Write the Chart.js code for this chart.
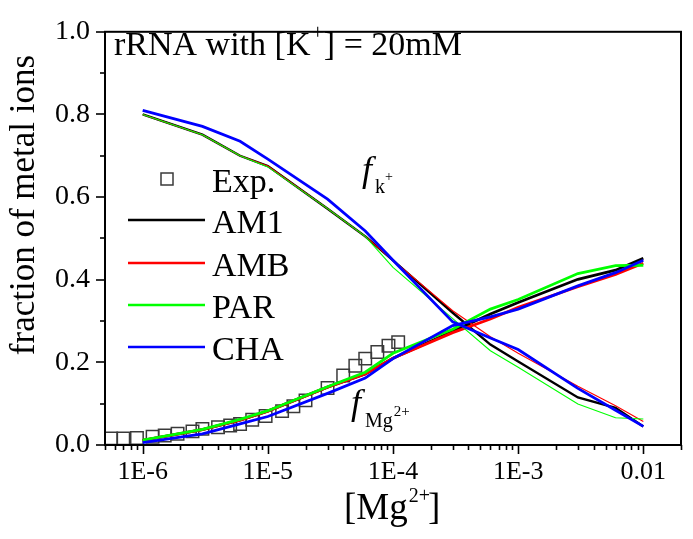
<!DOCTYPE html>
<html><head><meta charset="utf-8">
<script src="https://cdn.jsdelivr.net/npm/chart.js@4/dist/chart.umd.min.js"></script>
<style>html,body{margin:0;padding:0;background:#fff}#wrap{width:693px;height:539px;position:relative}</style>
</head><body><div id="wrap"><canvas id="c" width="693" height="539"></canvas></div>
<script>
// ---- data ----
const mgConc = [1e-6, 3e-6, 6e-6, 1e-5, 3e-5, 6e-5, 1e-4, 3e-4, 6e-4, 1e-3, 3e-3, 6e-3, 1e-2];
// fraction of K+ (decreasing curves)
const am1K = [0.800, 0.751, 0.700, 0.675, 0.572, 0.505, 0.447, 0.320, 0.243, 0.202, 0.115, 0.090, 0.045];
const ambK = [0.800, 0.751, 0.700, 0.675, 0.572, 0.505, 0.447, 0.325, 0.262, 0.222, 0.142, 0.095, 0.057];
const parK = [0.800, 0.751, 0.700, 0.673, 0.572, 0.505, 0.430, 0.306, 0.228, 0.188, 0.099, 0.066, 0.063];
const chaK = [0.810, 0.771, 0.735, 0.692, 0.595, 0.518, 0.447, 0.298, 0.259, 0.231, 0.137, 0.084, 0.045];
// fraction of Mg2+ (increasing curves)
const am1Mg = [0.011, 0.037, 0.060, 0.082, 0.140, 0.172, 0.210, 0.275, 0.317, 0.345, 0.401, 0.423, 0.452];
const ambMg = [0.011, 0.037, 0.060, 0.082, 0.140, 0.172, 0.210, 0.272, 0.305, 0.333, 0.383, 0.413, 0.440];
const parMg = [0.012, 0.038, 0.062, 0.083, 0.141, 0.176, 0.222, 0.280, 0.329, 0.352, 0.415, 0.434, 0.435];
const chaMg = [0.006, 0.027, 0.051, 0.069, 0.125, 0.162, 0.209, 0.289, 0.310, 0.329, 0.385, 0.417, 0.447];
// experiment
const expConc = [5.6e-7, 7e-7, 9e-7, 1.2e-6, 1.5e-6, 1.9e-6, 2.5e-6, 3e-6, 4e-6, 5e-6, 6e-6, 7.5e-6, 9.6e-6, 1.3e-5, 1.6e-5, 2e-5, 3e-5, 4e-5, 5e-5, 6e-5, 7.5e-5, 9.2e-5, 1.1e-4];
const expFrac = [0.016, 0.016, 0.017, 0.020, 0.023, 0.027, 0.033, 0.039, 0.043, 0.047, 0.051, 0.061, 0.070, 0.082, 0.094, 0.108, 0.138, 0.168, 0.192, 0.209, 0.225, 0.240, 0.249];
// ticks
const xMajorValues = [1e-6, 1e-5, 1e-4, 1e-3, 1e-2];
const xMajorLabels = ['1E-6', '1E-5', '1E-4', '1E-3', '0.01'];
const yMajorValues = [0, 0.2, 0.4, 0.6, 0.8, 1.0];
const yMajorLabels = ['0.0', '0.2', '0.4', '0.6', '0.8', '1.0'];
const yMinorValues = [0.1, 0.3, 0.5, 0.7, 0.9];
const seriesNames = ['AM1', 'AMB', 'PAR', 'CHA'];
const seriesColors = ['#000000', '#ff0000', '#00ff00', '#0000ff'];

const SERIF = '"Liberation Serif", "Times New Roman", serif';

function pts(xs, ys){ return xs.map((x,i)=>({x:x, y:ys[i]})); }

const xTickVals = [];
for (let e = -7; e <= -2; e++) for (let m = 1; m <= 9; m++) {
  const v = +(m + 'e' + e);
  if (v >= 5e-7 * 0.999 && v <= 2e-2 * 1.001) xTickVals.push(v);
}
function isMajorX(v){ return xMajorValues.some(t => Math.abs(Math.log10(v) - Math.log10(t)) < 1e-6); }

const kSets = [am1K, ambK, parK, chaK];
const mgSets = [am1Mg, ambMg, parMg, chaMg];
const kWidths = [2.4, 1.1, 1.1, 2.8];
const mgWidths = [2.8, 2.8, 2.8, 2.8];
const orders = [3, 2, 1, 0];

const datasets = [];
seriesNames.forEach((n, i) => {
  datasets.push({label: n + ' fK', data: pts(mgConc, kSets[i]), showLine: true, borderColor: seriesColors[i], borderWidth: kWidths[i], pointRadius: 0, tension: 0, order: orders[i]});
  datasets.push({label: n + ' fMg', data: pts(mgConc, mgSets[i]), showLine: true, borderColor: seriesColors[i], borderWidth: mgWidths[i], pointRadius: 0, tension: 0, order: orders[i]});
});
datasets.push({label: 'Exp.', data: pts(expConc, expFrac), showLine: false, pointStyle: 'rect', pointRadius: 8.8, borderColor: '#3a3a3a', borderWidth: 1.5, backgroundColor: 'rgba(0,0,0,0)', order: 5});

function runs(ctx, x, y, parts){
  let cx = x;
  parts.forEach(p => {
    ctx.font = (p.italic ? 'italic ' : '') + p.size + 'px ' + SERIF;
    ctx.fillText(p.t, cx + (p.dx || 0), y + (p.dy || 0));
    cx += ctx.measureText(p.t).width + (p.dx || 0);
  });
  return cx;
}

const deco = {
  id: 'deco',
  afterDraw(chart){
    const ctx = chart.ctx, a = chart.chartArea, xs = chart.scales.x, ys = chart.scales.y;
    ctx.save();
    ctx.strokeStyle = '#000';
    ctx.lineWidth = 2;
    ctx.strokeRect(a.left, a.top, a.right - a.left, a.bottom - a.top);
    ctx.lineWidth = 1.6;
    yMajorValues.concat(yMinorValues).forEach(v => {
      const p = Math.round(ys.getPixelForValue(v));
      const len = yMajorValues.includes(v) ? 9 : 5;
      ctx.beginPath(); ctx.moveTo(a.left, p); ctx.lineTo(a.left - len, p); ctx.stroke();
    });
    xTickVals.forEach(v => {
      const p = Math.round(xs.getPixelForValue(v)) + 0.5;
      const len = isMajorX(v) ? 9 : 5;
      ctx.beginPath(); ctx.moveTo(p, a.bottom); ctx.lineTo(p, a.bottom + len); ctx.stroke();
    });
    ctx.fillStyle = '#000';
    ctx.textAlign = 'left';
    ctx.textBaseline = 'alphabetic';
    // title
    runs(ctx, 114, 55, [{t: 'rRNA with [K', size: 34}, {t: '+', size: 22, dy: -16, dx: 1}, {t: '] = 20mM', size: 34, dx: 0}]);
    // annotations
    runs(ctx, 362, 181, [{t: 'f', size: 36, italic: true}, {t: 'k', size: 20, dy: 12, dx: 3}, {t: '+', size: 14, dy: 0}]);
    runs(ctx, 351, 414, [{t: 'f', size: 36, italic: true}, {t: 'Mg', size: 20, dy: 13, dx: 4}, {t: '2+', size: 15, dy: 2, dx: 1}]);
    // legend
    const rows = [179, 220, 263, 305, 347];
    ctx.lineWidth = 1.5; ctx.strokeStyle = '#3a3a3a';
    ctx.strokeRect(161, 173, 12, 12);
    ctx.font = '34px ' + SERIF;
    ctx.fillText('Exp.', 212, rows[0] + 13);
    seriesNames.forEach((n, i) => {
      const yy = rows[i + 1];
      ctx.strokeStyle = seriesColors[i]; ctx.lineWidth = 2.4;
      ctx.beginPath(); ctx.moveTo(128, yy); ctx.lineTo(205, yy); ctx.stroke();
      ctx.fillText(n, 212, yy + 13);
    });
    // axis titles
    ctx.fillStyle = '#000';
    runs(ctx, 344, 519, [{t: '[Mg', size: 37}, {t: '2+', size: 20, dy: -17, dx: 1}, {t: ']', size: 37, dx: -2}]);
    ctx.save();
    ctx.translate(34, 205);
    ctx.rotate(-Math.PI / 2);
    ctx.textAlign = 'center';
    ctx.font = '35px ' + SERIF;
    ctx.fillText('fraction of metal ions', 0, 0);
    ctx.restore();
    ctx.restore();
  }
};

new Chart(document.getElementById('c'), {
  type: 'scatter',
  data: {datasets: datasets},
  options: {
    responsive: false, animation: false, devicePixelRatio: 1,
    layout: {padding: {top: 19, right: 11, left: 0, bottom: 0}},
    plugins: {legend: {display: false}, tooltip: {enabled: false}},
    scales: {
      x: {
        type: 'logarithmic', min: 5e-7, max: 2e-2,
        afterBuildTicks: s => { s.ticks = xTickVals.map(v => ({value: v, major: isMajorX(v)})); },
        afterFit: s => { s.height = 94; },
        grid: {display: false, drawTicks: false},
        border: {display: false},
        ticks: {
          autoSkip: false, maxRotation: 0, minRotation: 0, padding: 12, color: '#000',
          font: {family: SERIF, size: 26},
          callback: v => { const i = xMajorValues.findIndex(t => Math.abs(Math.log10(v) - Math.log10(t)) < 1e-6); return i >= 0 ? xMajorLabels[i] : ''; }
        }
      },
      y: {
        type: 'linear', min: 0, max: 1,
        afterBuildTicks: s => { s.ticks = yMajorValues.map(v => ({value: v})); },
        afterFit: s => { s.width = 105; },
        grid: {display: false, drawTicks: false},
        border: {display: false},
        ticks: {
          padding: 15, color: '#000', font: {family: SERIF, size: 28},
          callback: v => { const i = yMajorValues.findIndex(t => Math.abs(t - v) < 1e-9); return i >= 0 ? yMajorLabels[i] : ''; }
        }
      }
    }
  },
  plugins: [deco]
});
</script></body></html>
